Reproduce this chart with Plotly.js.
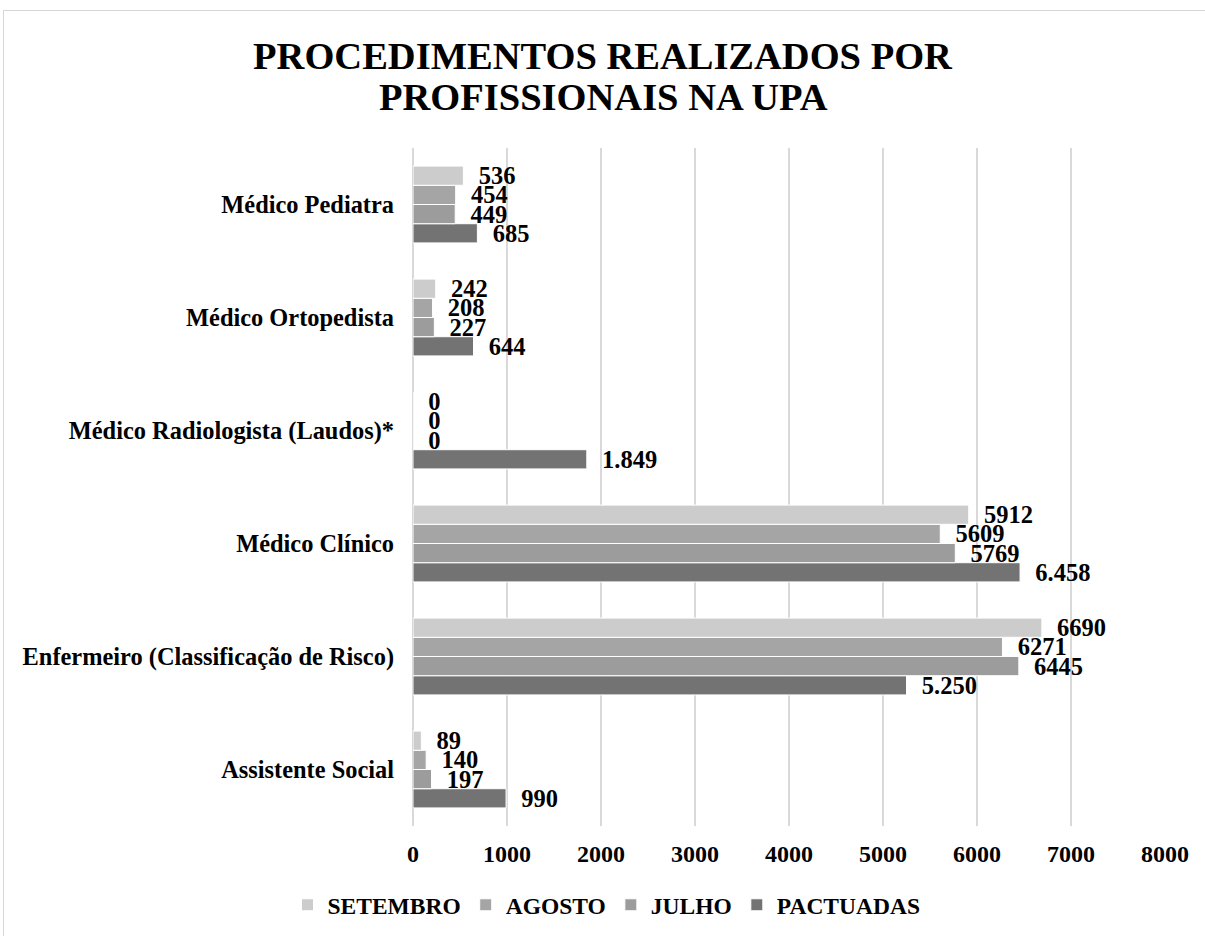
<!DOCTYPE html>
<html>
<head>
<meta charset="utf-8">
<script src="https://cdn.plot.ly/plotly-3.0.1.min.js"></script>
<style>
  html, body { margin: 0; padding: 0; background: #fff; }
  #chart { position: absolute; left: 0; top: 0; width: 1205px; height: 936px; }
  #frame { position: absolute; left: 3px; top: 10px; width: 1220px; height: 950px;
           border: 1.5px solid #d6d6d6; pointer-events: none; box-sizing: border-box; }
</style>
</head>
<body>
<div id="chart"></div>
<div id="frame"></div>
<script>
// Categories from bottom to top
const categories = [
  "Assistente Social",
  "Enfermeiro (Classificação de Risco)",
  "Médico Clínico",
  "Médico Radiologista (Laudos)*",
  "Médico Ortopedista",
  "Médico Pediatra"
];
const pactuadas = [990, 5250, 6458, 1849, 644, 685];
const pactuadasLabels = ["990", "5.250", "6.458", "1.849", "644", "685"];
const julho = [197, 6445, 5769, 0, 227, 449];
const agosto = [140, 6271, 5609, 0, 208, 454];
const setembro = [89, 6690, 5912, 0, 242, 536];

const seriesNames = ["PACTUADAS", "JULHO", "AGOSTO", "SETEMBRO"];
const seriesColors = ["#737373", "#9c9c9c", "#a5a5a5", "#cccccc"];
const titleLines = ["PROCEDIMENTOS REALIZADOS POR", "PROFISSIONAIS NA UPA"];

const FONT = "Liberation Serif, Times New Roman, serif";
const pad = "\u00A0\u00A0";

function mk(name, values, labels, color) {
  return {
    type: "bar",
    orientation: "h",
    name: name,
    y: categories,
    x: values,
    text: labels.map(t => pad + t),
    textposition: "outside",
    cliponaxis: false,
    constraintext: "none",
    textfont: { family: FONT, size: 24.5, color: "#000", weight: "bold" },
    marker: { color: color, line: { color: "#ffffff", width: 1 } },
    hoverinfo: "x+name"
  };
}

const data = [
  mk(seriesNames[0], pactuadas, pactuadasLabels, seriesColors[0]),
  mk(seriesNames[1], julho, julho.map(String), seriesColors[1]),
  mk(seriesNames[2], agosto, agosto.map(String), seriesColors[2]),
  mk(seriesNames[3], setembro, setembro.map(String), seriesColors[3])
];

const titleFont = { family: FONT, size: 38.5, color: "#000", weight: "bold" };
const M = { l: 413, r: 40, t: 148, b: 110 };

const layout = {
  width: 1205,
  height: 936,
  paper_bgcolor: "#ffffff",
  plot_bgcolor: "#ffffff",
  barmode: "group",
  bargap: 0.32,
  bargroupgap: 0,
  margin: M,
  font: { family: FONT, color: "#000" },
  title: {
    text: titleLines[0],
    font: titleFont,
    x: 0.5, xref: "container", xanchor: "center",
    y: 1 - 56 / 936, yref: "container", yanchor: "middle"
  },
  annotations: [{
    text: titleLines[1],
    font: titleFont,
    xref: "paper", yref: "paper",
    x: (603 - M.l) / (1205 - M.l - M.r), xanchor: "center",
    y: 1 + (M.t - 97) / (936 - M.t - M.b), yanchor: "middle",
    showarrow: false
  }],
  xaxis: {
    range: [0, 8000],
    dtick: 1000,
    showgrid: true,
    gridcolor: "#d9d9d9",
    gridwidth: 1.5,
    zeroline: true,
    zerolinecolor: "#d9d9d9",
    zerolinewidth: 1.5,
    showline: false,
    ticks: "",
    tickformat: "d",
    ticklabelstandoff: 11,
    tickfont: { family: FONT, size: 24, color: "#000", weight: "bold" },
    fixedrange: true
  },
  yaxis: {
    type: "category",
    showgrid: false,
    zeroline: false,
    showline: false,
    ticks: "",
    ticklabelstandoff: 18,
    tickfont: { family: FONT, size: 24.4, color: "#000", weight: "bold" },
    fixedrange: true
  },
  showlegend: true,
  legend: {
    orientation: "h",
    traceorder: "reversed",
    xref: "container", x: 0.5 + 4 / 1205, xanchor: "center",
    yref: "container", y: 1 - 905 / 936, yanchor: "middle",
    font: { family: FONT, size: 23.5, color: "#000", weight: "bold" },
    itemclick: false, itemdoubleclick: false
  }
};

Plotly.newPlot("chart", data, layout, { displayModeBar: false, staticPlot: true });
</script>
</body>
</html>
